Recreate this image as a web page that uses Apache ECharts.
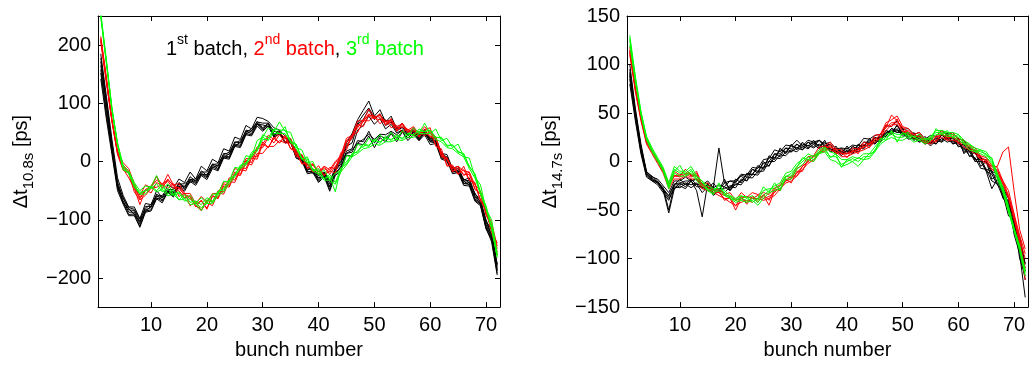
<!DOCTYPE html>
<html>
<head>
<meta charset="utf-8">
<script src="https://cdn.jsdelivr.net/npm/echarts@6/dist/echarts.min.js"></script>
<style>
html,body{margin:0;padding:0;background:#fff;}
#chart{width:1029px;height:365px;}
</style>
</head>
<body>
<div id="chart"></div>
<script>
// ---------- data ----------
const bunches = [1,2,3,4,5,6,7,8,9,10,11,12,13,14,15,16,17,18,19,20,21,22,23,24,25,26,27,28,29,30,31,32,33,34,35,36,37,38,39,40,41,42,43,44,45,46,47,48,49,50,51,52,53,54,55,56,57,58,59,60,61,62,63,64,65,66,67,68,69,70,71,72];
const xTicks = [10,20,30,40,50,60,70];
const yTicksLeft = [-200,-100,0,100,200];
const yTicksRight = [-150,-100,-50,0,50,100,150];

// left panel (Δt 10.8s), 1st batch (black)
const left1stBatch = [
 [185,112,38,-28,-58,-78,-78,-98,-72,-74, -50,-62,-40,-46,-30,-36,-18,-30,-8,-16, 4,-2,22,18,42,38,62,56,76,74, 69,58,54,44,36,18,6,-6,-14,-22, -18,-32,-14,8,32,48,72,88,104,78, 89,68,78,56,66,48,58,42,56,38, 42,14,12,-12,-8,-32,-28,-56,-64,-102, -118,-178],
 [172,98,22,-40,-62,-83,-84,-103,-77,-77, -56,-62,-51,-54,-36,-44,-26,-34,-16,-24, -4,-8,14,12,34,32,54,52,69,58, 66,46,54,32,34,6,4,-18,-16,-34, -22,-44,-16,-4,26,32,64,72,89,72, 82,62,68,52,59,46,54,40,49,34, 34,6,4,-18,-16,-38,-36,-64,-72,-112, -131,-188],
 [152,80,18,-46,-70,-91,-90,-111,-85,-83, -62,-68,-54,-59,-42,-48,-32,-38,-22,-28, -9,-14,8,6,28,26,48,46,64,54, 61,42,48,34,36,9,6,-18,-16,-31, -24,-48,-19,-11,18,22,54,62,78,64, 74,56,64,49,54,44,51,38,54,36, 36,9,6,-18,-16,-38,-39,-66,-74,-114, -138,-195],
 [142,73,12,-50,-73,-93,-93,-113,-87,-85, -64,-71,-52,-61,-44,-51,-34,-41,-24,-31, -12,-16,6,4,26,24,46,44,61,52, 61,42,48,32,34,6,1,-21,-19,-36, -26,-51,-24,-16,11,9,31,29,44,24, 41,34,48,34,51,36,46,36,46,29, 31,4,1,-21,-19,-41,-42,-68,-76,-116, -134,-192],
 [165,102,27,-40,-71,-81,-91,-103,-87,-76, -64,-62,-50,-52,-43,-42,-36,-32,-23,-22, -10,-7,7,13,27,33,47,53,64,63, 60,48,47,40,34,16,4,-10,-16,-24, -20,-34,-16,0,14,20,32,38,47,38, 47,46,52,46,54,46,47,48,47,40, 34,16,4,-10,-16,-30,-36,-54,-70,-100, -126,-176],
 [178,105,30,-35,-63,-79,-82,-99,-81,-73, -60,-58,-48,-48,-39,-38,-31,-30,-18,-18, -5,-4,12,16,32,36,50,56,68,66, 66,52,50,40,38,12,10,-14,-12,-28, -20,-38,-10,2,28,40,66,80,92,76, 80,70,70,58,58,52,52,46,50,42, 38,12,8,-14,-12,-34,-32,-58,-70,-104, -128,-182],
 [158,88,20,-44,-67,-87,-87,-107,-83,-79, -58,-66,-52,-56,-38,-46,-30,-36,-20,-26, -6,-12,10,8,30,28,52,48,66,56, 64,44,52,34,32,10,2,-16,-20,-28, -26,-42,-22,-8,14,16,36,34,52,32, 44,40,50,40,52,40,50,36,50,34, 32,10,0,-16,-20,-34,-40,-60,-74,-108, -132,-186]
];
// left panel, 2nd batch (red)
const left2ndBatch = [
 [215,145,72,18,-2,-12,-38,-58,-40,-45, -25,-42,-22,-40,-38,-55,-55,-72,-60,-70, -55,-55,-35,-35,-12,-15,5,5,25,30, 45,38,50,40,40,15,12,-6,-4,-18, -8,-14,0,10,40,45,70,70,90,75, 80,68,72,60,65,54,60,48,60,48, 42,14,6,-12,-8,-16,-18,-40,-50,-85, -105,-145],
 [205,135,68,12,-15,-20,-52,-66,-58,-46, -44,-40,-46,-38,-60,-54,-76,-68,-84,-70, -76,-54,-56,-34,-36,-14,-16,6,4,30, 24,40,32,42,22,16,-4,-4,-18,-14, -24,-16,-20,10,20,45,50,70,70,77, 65,72,58,62,50,56,44,52,44,52, 28,16,-6,-8,-22,-14,-32,-38,-66,-84, -122,-155],
 [210,140,70,15,-8,-18,-42,-62,-48,-42, -26,-46,-30,-42,-50,-62,-60,-76,-84,-66, -70,-50,-52,-28,-32,-10,-12,10,8,34, 24,42,32,45,22,20,-3,-2,-18,-7, -24,-10,-12,15,25,45,58,72,78,74, 82,62,74,52,66,50,58,42,55,58, 26,22,-8,-6,-22,-8,-32,-36,-68,-80, -120,-140],
 [208,138,70,14,-12,-28,-46,-74,-48,-54, -36,-42,-34,-46,-44,-58,-64,-72,-68,-80, -60,-62,-38,-42,-18,-22,2,-2,22,24, 42,32,46,34,36,8,12,-12,-4,-22, -8,-22,-8,4,36,44,62,68,82,74, 72,68,66,58,59,54,52,48,52,42, 42,8,6,-18,-8,-24,-18,-48,-55,-92, -110,-160],
 [212,142,71,16,-10,-20,-44,-64,-50,-44, -32,-38,-32,-40,-46,-57,-60,-78,-66,-82, -58,-64,-42,-44,-22,-24,-2,-6,14,14, 26,26,36,32,32,12,10,-12,-6,-18, -12,-18,-2,6,34,40,64,60,80,78, 76,64,70,54,62,50,56,44,54,44, 40,10,4,-16,-12,-22,-22,-46,-56,-90, -112,-150]
];
// left panel, 3rd batch (green)
const left3rdBatch = [
 [255,175,92,32,-6,-16,-36,-50,-42,-44, -24,-48,-38,-56,-52,-64,-58,-72,-62,-72, -56,-56,-34,-34,-10,-12,10,8,36,42, 58,52,68,52,50,24,20,-2,0,-22, -14,-32,-20,-16,10,8,30,24,40,34, 46,36,50,38,53,44,58,48,66,48, 56,36,40,24,30,8,6,-26,-40,-82, -100,-158],
 [248,168,88,28,-14,-20,-44,-56,-56,-44, -52,-48,-59,-56,-66,-64,-74,-72,-79,-72, -72,-58,-52,-38,-26,-12,-6,8,18,38, 38,48,48,48,34,22,4,-2,-16,-22, -32,-32,-39,-18,-6,8,14,22,24,30, 28,34,34,38,36,42,41,48,48,48, 38,34,24,22,14,8,-12,-28,-56,-82, -116,-162],
 [252,172,90,30,-10,-20,-40,-56,-50,-46, -38,-52,-46,-59,-54,-68,-64,-74,-84,-66, -70,-51,-49,-31,-24,-6,-4,16,21,46, 41,56,54,54,36,29,6,4,-14,-16, -29,-26,-52,-11,-4,14,16,29,26,39, 31,44,36,46,38,49,44,56,51,54, 41,42,26,29,16,14,-9,-21,-54,-76, -114,-165],
 [250,170,90,30,-12,-20,-42,-53,-50,-42, -50,-40,-56,-48,-66,-56,-70,-68,-74,-62, -68,-54,-46,-34,-22,-8,-2,12,22,42, 36,54,48,60,32,30,4,8,-16,-12, -30,-22,-36,-12,0,12,18,30,28,36, 34,40,38,44,40,48,46,52,52,54, 42,40,28,28,18,12,-8,-22,-52,-78, -112,-160]
];

// right panel (Δt 14.7s), 1st batch (black)
const right1stBatch = [
 [100,55,18,-10,-16,-18,-25,-32,-20,-20, -16,-20,-18,-24,-20,-27,14,-22,-20,-20, -13,-14,-6,-7,2,3,12,10,17,16, 22,16,22,20,22,18,20,13,14,13, 17,16,24,23,27,28,37,36,42,33, 34,28,30,23,27,26,32,28,30,23, 22,13,12,3,2,-10,-13,-27,-38,-62, -78,-105],
 [92,50,14,-12,-18,-22,-30,-38,-28,-22, -26,-20,-26,-26,-30,-28,-32,-26,-30,-23, -24,-16,-17,-10,-10,0,0,7,6,12, 10,16,13,18,13,17,10,12,6,12, 8,14,13,20,18,24,26,32,30,30, 23,24,20,22,16,22,20,24,18,20, 10,10,0,0,-10,-13,-24,-30,-50,-66, -92,-113],
 [85,45,10,-14,-20,-22,-30,-53,-28,-25, -28,-20,-30,-57,-22,-35,-30,-18,-30,-20, -15,-20,-8,-12,0,-5,8,5,14,10, 18,12,20,15,22,15,18,8,14,8, 16,12,20,18,25,22,32,28,38,28, 30,22,28,18,24,18,28,22,25,15, 18,5,10,-5,0,-18,-15,-38,-40,-75, -95,-140],
 [80,42,8,-16,-20,-24,-32,-40,-26,-27, -23,-27,-23,-32,-26,-32,-30,-32,-26,-27, -18,-20,-13,-14,-6,-4,4,3,10,10, 14,12,17,14,18,14,14,8,10,8, 12,10,17,16,22,20,30,28,34,26, 28,22,24,18,20,18,24,20,22,16, 14,6,4,-7,-8,-20,-23,-37,-48,-72, -90,-122],
 [95,52,16,-11,-15,-20,-28,-35,-23,-22, -20,-20,-18,-27,-24,-27,-24,-26,-20,-22, -14,-16,-8,-10,-2,0,8,8,14,13, 18,14,20,18,22,16,18,10,12,10, 14,14,20,20,24,24,32,30,37,28, 30,23,26,20,24,22,27,24,24,18, 17,10,10,0,0,-12,-16,-26,-44,-60, -84,-106],
 [88,48,12,-13,-19,-21,-29,-36,-24,-24, -22,-24,-22,-28,-24,-29,-28,-28,-25,-24, -20,-13,-13,-6,-6,4,4,12,10,16, 14,18,16,20,16,20,12,14,10,14, 10,17,16,22,20,26,28,34,32,31, 26,27,22,24,20,24,22,27,20,22, 12,12,2,2,-8,-10,-22,-28,-47,-64, -88,-110],
 [90,50,15,-12,-17,-21,-27,-50,-24,-18, -24,-18,-24,-22,-28,-22,-30,-22,-28,-18, -22,-12,-14,-4,-8,6,2,14,8,18, 12,20,14,22,14,22,10,16,8,16, 8,18,14,24,18,28,26,34,30,34, 24,30,20,26,18,26,20,30,18,24, 8,15,0,5,-10,-28,-18,-34,-56,-60, -100,-118]
];
// right panel, 2nd batch (red)
const right2ndBatch = [
 [118,78,48,22,12,2,-8,-22,-10,-14, -8,-14,-10,-24,-22,-30,-28,-34,-32,-40, -32,-37,-32,-34,-32,-34,-27,-24,-15,-17, -7,-4,5,6,15,16,20,13,12,8, 14,13,20,18,27,28,40,43,47,36, 34,28,30,23,24,26,32,26,30,23, 22,16,14,6,4,-4,-6,-20,-30,-54, -76,-95],
 [112,72,42,18,8,-2,-12,-28,-18,-18, -15,-18,-18,-28,-30,-32,-35,-38,-42,-45, -42,-40,-42,-38,-40,-38,-35,-28,-22,-20, -15,-8,-2,2,8,12,12,10,5,5, 8,10,12,15,20,25,32,38,38,32, 28,25,22,20,18,22,25,22,22,20, 15,12,8,2,-2,-8,-12,-22,-38,-58, -82,-122],
 [115,75,45,20,10,0,-10,-25,-15,-15, -8,-15,-12,-25,-28,-30,-32,-38,-38,-50, -38,-42,-38,-38,-35,-45,-30,-28,-20,-15, -15,-5,0,5,8,15,15,12,8,8, 10,12,15,18,22,28,35,48,42,35, 30,28,25,22,20,25,28,25,25,22, 18,15,10,5,0,-5,-10,-20,-35,-55, -80,-100],
 [110,74,44,20,10,0,-10,-25,-15,-14, -12,-14,-15,-24,-28,-30,-32,-35,-36,-40, -38,-36,-38,-35,-38,-36,-32,-25,-20,-18, -12,-5,0,5,10,15,15,12,8,8, 10,12,15,18,22,28,35,40,40,35, 30,28,25,22,20,25,28,25,25,22, 18,15,10,5,0,-5,-5,10,15,-30, -70,-90],
 [114,76,46,21,11,1,-9,-24,-14,-16, -13,-16,-14,-26,-26,-33,-30,-40,-37,-46, -36,-44,-36,-42,-34,-40,-28,-30,-18,-22, -10,-10,2,0,10,10,18,8,10,4, 12,8,18,14,24,22,38,36,44,30, 32,24,28,18,22,20,30,22,28,18, 20,12,12,2,2,-8,-8,-24,-36,-60, -84,-110]
];
// right panel, 3rd batch (green)
const right3rdBatch = [
 [125,85,50,25,12,2,-8,-25,-8,-12, -12,-8,-18,-22,-28,-30,-25,-30,-35,-38, -35,-38,-35,-40,-30,-28,-28,-25,-15,-15, -5,0,5,2,10,12,5,5,-3,0, 3,0,5,5,12,20,25,28,25,25, 28,22,25,20,25,30,30,28,28,25, 20,15,12,10,8,0,-15,-30,-50,-70, -90,-115],
 [130,88,52,26,14,4,-6,-22,-5,-10, -10,-5,-15,-20,-25,-28,-28,-32,-38,-40, -38,-40,-38,-42,-35,-30,-25,-22,-12,-10, -2,2,8,5,12,15,10,8,2,2, 5,3,8,8,15,22,28,30,28,28, 30,25,28,22,26,32,32,30,30,28, 22,18,14,12,10,2,-12,-28,-48,-68, -88,-112],
 [120,82,48,22,10,0,-10,-28,-12,-15, -15,-12,-20,-25,-30,-32,-30,-35,-38,-42, -40,-42,-40,-45,-38,-32,-30,-28,-18,-18, -8,-3,2,0,8,10,2,0,-5,-3, 0,-5,2,3,10,18,22,25,22,22, 25,20,22,18,22,28,28,26,26,22, 18,12,10,8,5,-2,-18,-32,-52,-72, -92,-118],
 [127,86,50,24,12,2,-8,-26,-10,-4, -14,-10,-16,-20,-30,-34,-22,-34,-36,-40, -36,-36,-42,-38,-26,-32,-22,-30,-16,-12, -6,4,2,6,8,14,4,8,-6,2, 0,4,2,8,10,24,22,32,20,30, 26,26,22,24,22,34,28,32,24,28, 18,18,10,12,6,4,-14,-26,-46,-70, -86,-114]
];

// ---------- chart ----------
const FONT = 'Liberation Sans, Arial, Helvetica, sans-serif';
const minus = v => String(v).replace('-', '\u2212');
const chart = echarts.init(document.getElementById('chart'), null, {renderer: 'canvas'});

function xAx(grid, pos) {
  const bottom = pos === 'bottom';
  return {
    type: 'value', gridIndex: grid, position: pos, min: 0.5, max: 72.5,
    axisLine: {show: true, onZero: false, lineStyle: {color: '#000', width: 1}},
    axisTick: {show: true, inside: true, length: 5, customValues: xTicks, lineStyle: {color: '#000'}},
    axisLabel: {show: bottom, customValues: xTicks, margin: 8, color: '#000', fontSize: 20, fontFamily: FONT},
    splitLine: {show: false},
    name: bottom ? 'bunch number' : '', nameLocation: 'middle', nameGap: 32,
    nameTextStyle: {color: '#000', fontSize: 20, fontFamily: FONT}
  };
}
function yAx(grid, pos, mn, mx, ticks, sub) {
  const left = pos === 'left';
  return {
    type: 'value', gridIndex: grid, position: pos, min: mn, max: mx,
    axisLine: {show: true, onZero: false, lineStyle: {color: '#000', width: 1}},
    axisTick: {show: true, inside: true, length: 5, customValues: ticks, lineStyle: {color: '#000'}},
    axisLabel: {show: left, customValues: ticks, margin: 7, color: '#000', fontSize: 20, fontFamily: FONT, formatter: minus},
    splitLine: {show: false},
    name: left ? '{n|\u0394t}{s|' + sub + '}{n| [ps]}' : '', nameLocation: 'middle', nameGap: 62,
    nameTextStyle: {
      color: '#000', fontFamily: FONT, fontSize: 20,
      rich: {
        n: {fontSize: 20, fontFamily: FONT, color: '#000', lineHeight: 30, verticalAlign: 'middle'},
        s: {fontSize: 15, fontFamily: FONT, color: '#000', lineHeight: 15, verticalAlign: 'bottom'}
      }
    }
  };
}

const series = [];
function addLines(sets, color, xi, yi) {
  sets.forEach(vals => {
    series.push({
      type: 'line', xAxisIndex: xi, yAxisIndex: yi, showSymbol: false, symbol: 'none',
      silent: true, animation: false, clip: true,
      lineStyle: {color: color, width: 1},
      data: vals.map((v, i) => [bunches[i], v])
    });
  });
}
addLines(left1stBatch, '#000000', 0, 0);
addLines(left2ndBatch, '#ff0000', 0, 0);
addLines(left3rdBatch, '#00ff00', 0, 0);
addLines(right1stBatch, '#000000', 2, 2);
addLines(right2ndBatch, '#ff0000', 2, 2);
addLines(right3rdBatch, '#00ff00', 2, 2);

chart.setOption({
  animation: false,
  backgroundColor: '#fff',
  grid: [
    {left: 98, top: 16, width: 402, height: 294, show: true, backgroundColor: '#fff', borderWidth: 0},
    {left: 627, top: 16, width: 401, height: 294, show: true, backgroundColor: '#fff', borderWidth: 0}
  ],
  xAxis: [xAx(0, 'bottom'), xAx(0, 'top'), xAx(1, 'bottom'), xAx(1, 'top')],
  yAxis: [
    yAx(0, 'left', -250, 250, yTicksLeft, '10.8s'),
    yAx(0, 'right', -250, 250, yTicksLeft, ''),
    yAx(1, 'left', -150, 150, yTicksRight, '14.7s'),
    yAx(1, 'right', -150, 150, yTicksRight, '')
  ],
  graphic: [{
    type: 'text', left: 166, top: 33, silent: true,
    style: {
      text: '{k|1}{ks|st}{k| batch, }{r|2}{rs|nd}{r| batch}{k|, }{g|3}{gs|rd}{g| batch}',
      fontFamily: FONT,
      rich: {
        k: {fontSize: 20, fontFamily: FONT, fill: '#000', lineHeight: 26, verticalAlign: 'bottom'},
        ks: {fontSize: 14, fontFamily: FONT, fill: '#000', lineHeight: 14, verticalAlign: 'top'},
        r: {fontSize: 20, fontFamily: FONT, fill: '#ff0000', lineHeight: 26, verticalAlign: 'bottom'},
        rs: {fontSize: 14, fontFamily: FONT, fill: '#ff0000', lineHeight: 14, verticalAlign: 'top'},
        g: {fontSize: 20, fontFamily: FONT, fill: '#00ff00', lineHeight: 26, verticalAlign: 'bottom'},
        gs: {fontSize: 14, fontFamily: FONT, fill: '#00ff00', lineHeight: 14, verticalAlign: 'top'}
      }
    }
  }],
  series: series
});
</script>
</body>
</html>
